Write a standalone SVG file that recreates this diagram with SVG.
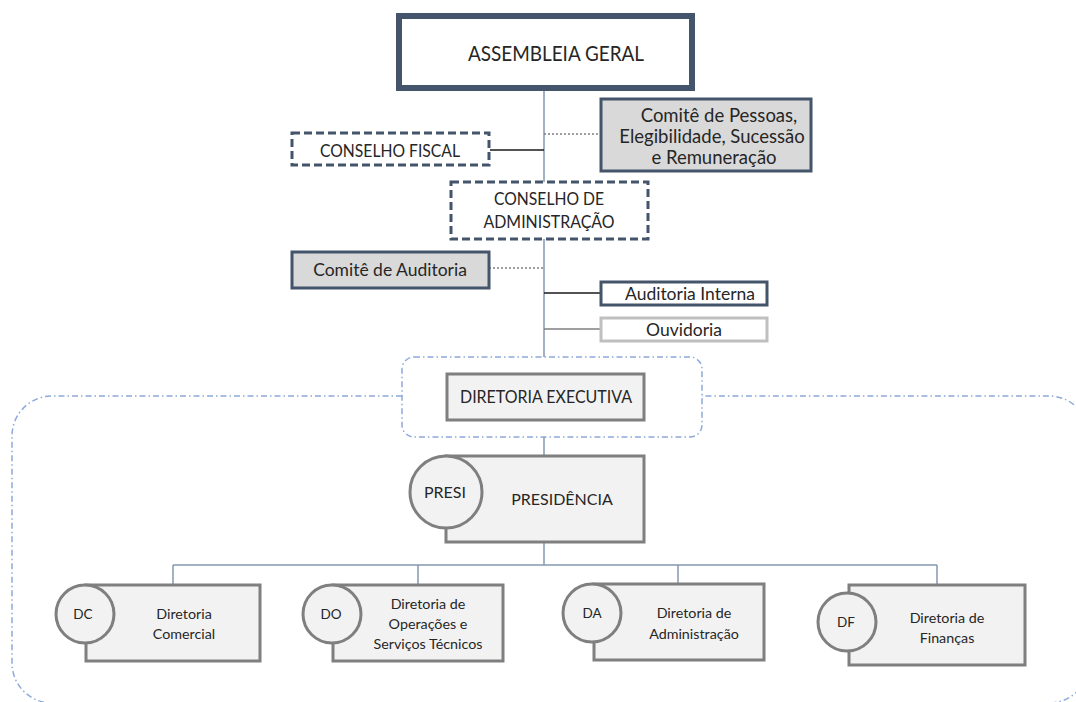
<svg xmlns="http://www.w3.org/2000/svg" width="1076" height="702" viewBox="0 0 1076 702">
<style>
text{font-family:Lato,"Liberation Sans",sans-serif;fill:#262626;text-anchor:middle;dominant-baseline:central}
.dark{fill:#fff;stroke:#44546a;stroke-width:3}
.dash{fill:#fff;stroke:#44546a;stroke-width:3;stroke-dasharray:8 4}
.comite{fill:#d9d9d9;stroke:#44546a;stroke-width:3}
.gray{fill:#f2f2f2;stroke:#7f7f7f;stroke-width:3}
.dd{fill:none;stroke:#8ea9db;stroke-width:1.5;stroke-dasharray:6 3 1.5 3}
.ln{fill:none;stroke:#8497b0;stroke-width:1.5}
.blk{fill:none;stroke:#1a1a1a;stroke-width:1.5}
.dot{fill:none;stroke:#7f7f7f;stroke-width:1.5;stroke-dasharray:2 2}
.t18{font-size:17.5px}
.up{font-size:17.5px}
.t14{font-size:14.3px}
.t13{font-size:13.5px}
</style>
<g id="regions">
<path class="dd" d="M402,396 H52 A40,40 0 0 0 12,436 V663 A40,40 0 0 0 52,703 H1049 A40,40 0 0 0 1089,663 V436 A40,40 0 0 0 1049,396 H702"/>
<rect class="dd" x="402" y="357" width="300" height="80" rx="12"/>
</g>
<g id="connectors">
<line class="ln" x1="544" y1="91" x2="544" y2="357"/>
<line class="ln" x1="544" y1="437" x2="544" y2="456"/>
<line class="ln" x1="544" y1="542" x2="544" y2="565"/>
<line class="ln" x1="173" y1="565" x2="937" y2="565"/>
<line class="ln" x1="173" y1="565" x2="173" y2="585"/>
<line class="ln" x1="418" y1="565" x2="418" y2="585"/>
<line class="ln" x1="678" y1="565" x2="678" y2="584"/>
<line class="ln" x1="937" y1="565" x2="937" y2="585"/>
<line class="blk" x1="490" y1="150" x2="544" y2="150"/>
<line class="dot" x1="544" y1="134" x2="601" y2="134"/>
<line class="dot" x1="489" y1="268" x2="544" y2="268"/>
<line class="blk" x1="544" y1="293" x2="601" y2="293"/>
<line style="fill:none;stroke:#7f7f7f;stroke-width:1.5" x1="544" y1="329" x2="601" y2="329"/>
</g>
<g id="assembleia">
<rect x="399" y="16" width="293" height="72" fill="#fff" stroke="#44546a" stroke-width="6"/>
<text x="556" y="52" font-size="21" textLength="176" lengthAdjust="spacingAndGlyphs">ASSEMBLEIA GERAL</text>
</g>
<g id="comite-pessoas">
<rect class="comite" x="601" y="99" width="210" height="72"/>
<text x="719" y="115" font-size="18.5">Comitê de Pessoas,</text>
<text x="712" y="136" font-size="18.5">Elegibilidade, Sucessão</text>
<text x="714" y="157" font-size="18.5">e Remuneração</text>
</g>
<g id="conselho-fiscal">
<rect class="dash" x="292" y="133" width="197" height="32"/>
<text class="up" x="390" y="150" textLength="140" lengthAdjust="spacingAndGlyphs">CONSELHO FISCAL</text>
</g>
<g id="conselho-adm">
<rect class="dash" x="451" y="182" width="197" height="57"/>
<text class="up" x="549" y="198" textLength="110" lengthAdjust="spacingAndGlyphs">CONSELHO DE</text>
<text class="up" x="549" y="221" textLength="131" lengthAdjust="spacingAndGlyphs">ADMINISTRAÇÃO</text>
</g>
<g id="comite-auditoria">
<rect class="comite" x="292" y="252" width="197" height="36"/>
<text class="t18" x="390" y="269">Comitê de Auditoria</text>
</g>
<g id="auditoria-interna">
<rect class="dark" x="601" y="282" width="166" height="23"/>
<text class="t18" x="690" y="293">Auditoria Interna</text>
</g>
<g id="ouvidoria">
<rect x="601" y="318" width="166" height="23" fill="#fff" stroke="#bfbfbf" stroke-width="3"/>
<text class="t18" x="684" y="329">Ouvidoria</text>
</g>
<g id="diretoria-executiva">
<rect class="gray" x="447" y="374" width="197" height="46"/>
<text x="546" y="397" font-size="16.5" textLength="172" lengthAdjust="spacingAndGlyphs">DIRETORIA EXECUTIVA</text>
</g>
<g id="presidencia">
<rect class="gray" x="446" y="456" width="198" height="86"/>
<circle class="gray" cx="446" cy="492" r="36"/>
<text x="445" y="491" font-size="16">PRESI</text>
<text x="562" y="498" font-size="16">PRESIDÊNCIA</text>
</g>
<g id="dc">
<rect class="gray" x="86" y="585" width="174" height="76"/>
<circle class="gray" cx="85" cy="614" r="29"/>
<text class="t13" x="83" y="614">DC</text>
<text class="t14" x="184" y="613">Diretoria</text>
<text class="t14" x="184" y="633">Comercial</text>
</g>
<g id="do">
<rect class="gray" x="333" y="585" width="170" height="76"/>
<circle class="gray" cx="332" cy="614" r="29"/>
<text class="t13" x="331" y="614">DO</text>
<text class="t14" x="428" y="603">Diretoria de</text>
<text class="t14" x="428" y="623">Operações e</text>
<text class="t14" x="428" y="643">Serviços Técnicos</text>
</g>
<g id="da">
<rect class="gray" x="594" y="584" width="170" height="76"/>
<circle class="gray" cx="592" cy="613" r="29"/>
<text class="t13" x="592" y="613">DA</text>
<text class="t14" x="694" y="612">Diretoria de</text>
<text class="t14" x="694" y="633">Administração</text>
</g>
<g id="df">
<rect class="gray" x="849" y="585" width="176" height="80"/>
<circle class="gray" cx="847" cy="622" r="29"/>
<text class="t13" x="846" y="622">DF</text>
<text class="t14" x="947" y="617">Diretoria de</text>
<text class="t14" x="947" y="637">Finanças</text>
</g>
</svg>
